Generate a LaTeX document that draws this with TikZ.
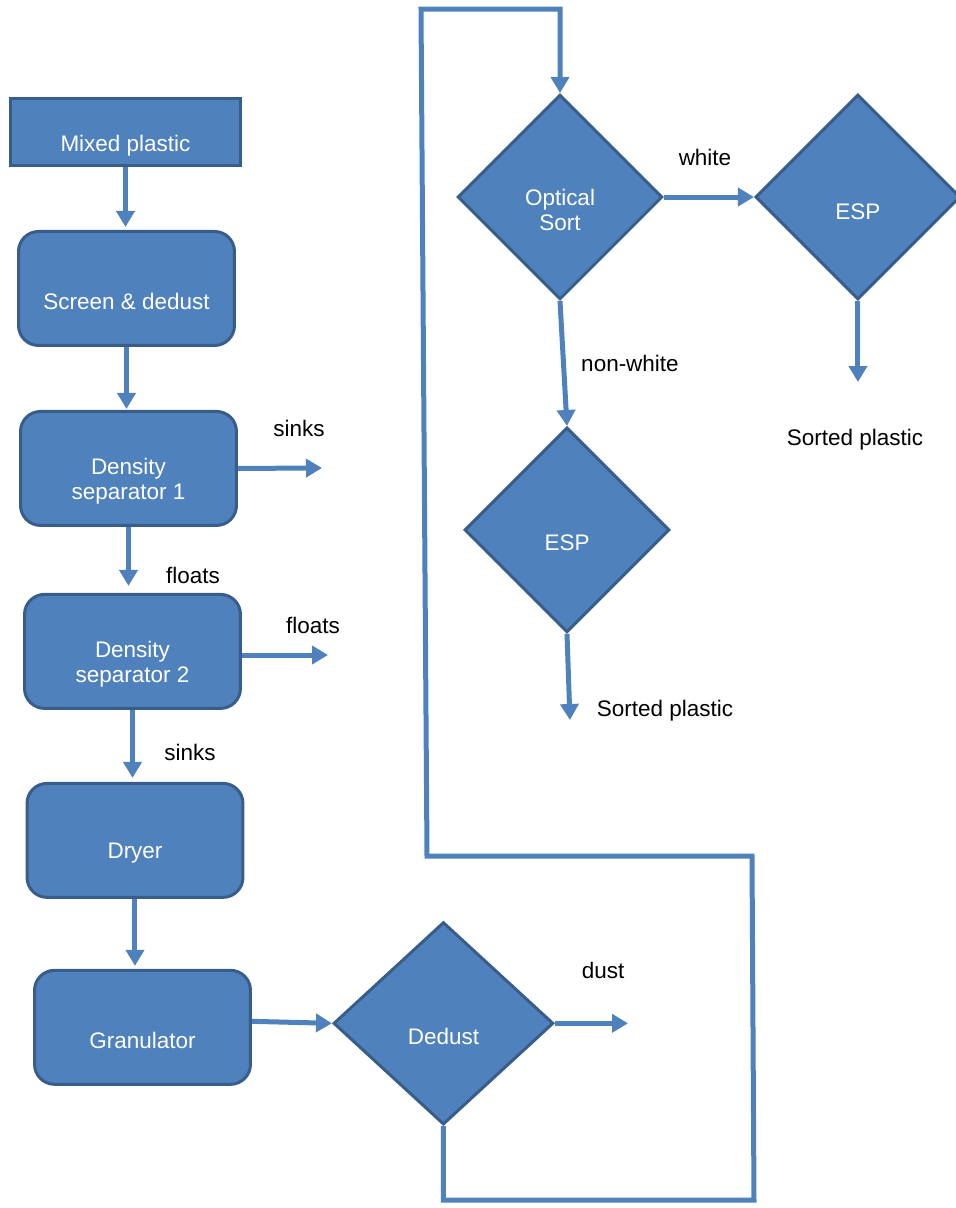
\documentclass[tikz,border=0pt]{standalone}
\usepackage{fontspec}
\setmainfont{Liberation Sans}
\usepackage{tikz}
\usetikzlibrary{shapes.geometric, arrows.meta, positioning}
\definecolor{boxfill}{HTML}{4F81BD}
\definecolor{boxline}{HTML}{385D8A}

\begin{document}
\begin{tikzpicture}[
        x=0.02cm, y=-0.02cm,
        every node/.style={font=\fontsize{12.8}{14.2}\selectfont},
        feedbox/.style={draw=boxline, fill=boxfill, rectangle, line width=0.06cm, minimum width=4.6cm, minimum height=1.34cm, inner sep=0pt},
        procbox/.style={draw=boxline, fill=boxfill, rectangle, rounded corners=0.4cm, line width=0.06cm, minimum width=4.32cm, minimum height=2.28cm, inner sep=0pt},
        decision/.style={draw=boxline, fill=boxfill, diamond, line width=0.06cm, minimum width=4.1cm, minimum height=4.1cm, inner sep=0pt},
        boxtext/.style={text=white, align=center, yshift=-0.26cm},
        flowlabel/.style={text=black},
        arrow/.style={draw=boxfill, line width=0.1cm, -{Triangle[length=0.32cm, width=0.36cm]}},
        returnline/.style={draw=boxfill, line width=0.1cm}
    ]
        \useasboundingbox (0,0) rectangle (956,1208);

        % Left column
        \node[feedbox, label={[boxtext, yshift=-0.02cm]center:Mixed plastic}] (mixed) at (125.5,132) {};
        \node[procbox, below=1.26cm of mixed, xshift=0.02cm, label={[boxtext]center:Screen \& dedust}] (screen) {};
        \node[procbox, below=1.26cm of screen, xshift=0.04cm, label={[boxtext]center:Density\\separator 1}] (sep1) {};
        \node[procbox, below=1.32cm of sep1, xshift=0.08cm, label={[boxtext]center:Density\\separator 2}] (sep2) {};
        \node[procbox, below=1.44cm of sep2, xshift=0.05cm, label={[boxtext]center:Dryer}] (dryer) {};
        \node[procbox, below=1.4cm of dryer, xshift=0.15cm, label={[boxtext]center:Granulator}] (gran) {};

        % Decisions
        \node[decision, right=1.6cm of gran, yshift=0.08cm, minimum width=4.4cm, minimum height=4.05cm, label={[boxtext]center:Dedust}] (dedust) {};
        \node[decision, label={[boxtext]center:Optical\\Sort}] (optical) at (560,197) {};
        \node[decision, right=1.8cm of optical, label={[boxtext, yshift=-0.04cm]center:ESP}] (espwhite) {};
        \node[decision, below=2.5cm of optical, xshift=0.14cm, label={[boxtext]center:ESP}] (esplow) {};

        % Free ends and bends
        \coordinate (sinksout) at (322,468);
        \coordinate (floatsout) at (328,655);
        \coordinate (dustout) at (628,1027);
        \coordinate (whitesorted) at (857,382);
        \coordinate (lowsorted) at (570,720);
        \coordinate (bend2) at (754,1200);
        \coordinate (bend3) at (752,856);
        \coordinate (bend4) at (427,856);
        \coordinate (bend5) at (421,9);

        % Arrows
        \draw[arrow, shorten >=0.06cm] (mixed.south) -- (mixed.south |- screen.north);
        \draw[arrow, shorten >=0.02cm] (screen.south) -- (screen.south |- sep1.north);
        \draw[arrow, shorten >=0.14cm] (sep1.south) -- (sep1.south |- sep2.north);
        \draw[arrow, shorten >=0.08cm] (sep2.south) -- (sep2.south |- dryer.north);
        \draw[arrow, shorten >=0.06cm] (dryer.south) -- (dryer.south |- gran.north);
        \draw[arrow] (sep1.east) -- (sinksout);
        \draw[arrow] (sep2.east |- floatsout) -- (floatsout);
        \draw[arrow] ([yshift=0.12cm]gran.east) -- (dedust.west);
        \draw[arrow] (dedust.east) -- (dedust.east -| dustout);
        \draw[arrow] (optical.east) -- (espwhite.west);
        \draw[arrow] (optical.south) -- (esplow.north);
        \draw[arrow] (espwhite.south) -- (espwhite.south |- whitesorted);
        \draw[arrow] (esplow.south) -- (lowsorted);
        \draw[returnline, -{Triangle[length=0.32cm, width=0.36cm]}] (dedust.south) -- (dedust.south |- bend2) -- (bend2) -- (bend3) -- (bend4) -- (bend5) -- (bend5 -| optical.north) -- (optical.north);

        % Labels
        \node[flowlabel] at (299,428) {sinks};
        \node[flowlabel] at (193,575) {floats};
        \node[flowlabel] at (313,625) {floats};
        \node[flowlabel] at (190,752) {sinks};
        \node[flowlabel] at (705,157) {white};
        \node[flowlabel] at (630,363) {non-white};
        \node[flowlabel] at (855,440) {Sorted plastic};
        \node[flowlabel] at (665,711) {Sorted plastic};
        \node[flowlabel] at (603,970) {dust};
    \end{tikzpicture}
\end{document}
